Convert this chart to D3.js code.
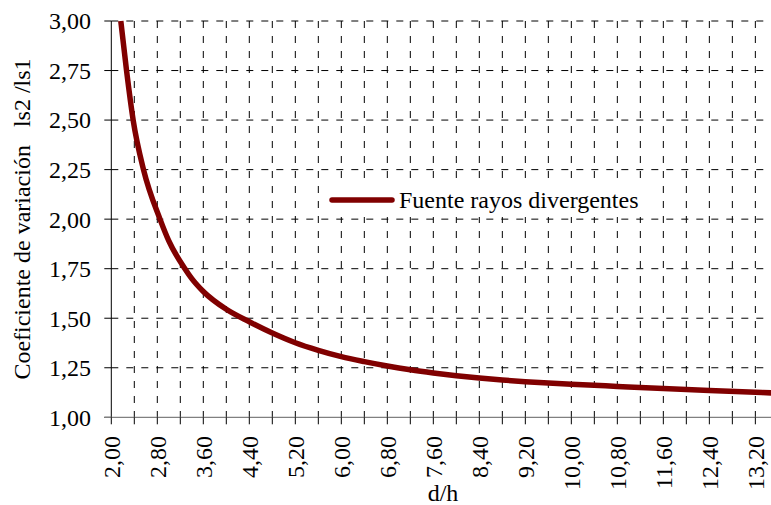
<!DOCTYPE html>
<html>
<head>
<meta charset="utf-8">
<script src="https://cdn.jsdelivr.net/npm/d3@7"></script>
<style>
  body { margin: 0; background: #fff; }
</style>
</head>
<body>
<svg width="771" height="505"></svg>
<script>
// values
const dh = [2.165, 2.265, 2.38, 2.56, 2.847, 3.00, 3.28, 3.40, 3.60, 4.00, 4.40, 4.80, 5.20,
    5.60, 6.00, 6.40, 6.80, 7.20, 7.60, 8.00, 8.40, 8.80, 9.20, 9.60, 10.00, 10.80, 11.60,
    12.40, 13.20, 13.50]
const ratio = [3.00, 2.75, 2.50, 2.25, 2.00, 1.89, 1.75, 1.70, 1.635, 1.545, 1.482, 1.425, 1.376,
    1.338, 1.306, 1.281, 1.259, 1.240, 1.224, 1.210, 1.198, 1.188, 1.180, 1.173, 1.167, 1.156, 1.145,
    1.135, 1.126, 1.123]
const yTicks = [1.00, 1.25, 1.50, 1.75, 2.00, 2.25, 2.50, 2.75, 3.00]
const xGrid = d3.range(2, 13.4, 0.4)
const xLabels = d3.range(2, 13.4, 0.8)
const seriesName = 'Fuente rayos divergentes',
    xTitle = 'd/h',
    yTitle = 'Coeficiente de variación   ls2 /ls1'

const svg = d3.select('svg')
    .attr('font-family', '"Liberation Serif", "DejaVu Serif", "Times New Roman", serif'),
    pLeft = 111.3, pTop = 21, pBottom = 417.3, pRight = 772.6,
    line_color = '#800000',
    fs = '24px',
    fmt = (v) => d3.format('.2f')(v).replace('.', ',')

const x = d3.scaleLinear().domain([2, 13.5]).range([pLeft, pRight]),
    y = d3.scaleLinear().domain([1, 3]).range([pBottom, pTop])

// grid
svg.append('g').selectAll('line')
    .data(xGrid.filter((d) => d > 2.01))
    .enter().append('line')
    .attr('x1', (d) => x(d)).attr('x2', (d) => x(d))
    .attr('y1', pTop).attr('y2', pBottom)
    .style('stroke', '#000').style('stroke-width', 1)
    .style('stroke-dasharray', '7,8')

svg.append('g').selectAll('line')
    .data(yTicks.filter((d) => d > 1))
    .enter().append('line')
    .attr('x1', pLeft).attr('x2', 771)
    .attr('y1', (d) => y(d)).attr('y2', (d) => y(d))
    .style('stroke', '#000').style('stroke-width', 1)
    .style('stroke-dasharray', '7,8')

// y axis
svg.append('line')
    .attr('x1', pLeft).attr('x2', pLeft).attr('y1', pTop).attr('y2', pBottom)
    .style('stroke', '#000')
svg.append('g').selectAll('line')
    .data(yTicks)
    .enter().append('line')
    .attr('x1', pLeft - 7).attr('x2', pLeft)
    .attr('y1', (d) => y(d)).attr('y2', (d) => y(d))
    .style('stroke', '#000')
svg.append('g').selectAll('text')
    .data(yTicks)
    .enter().append('text')
    .attr('x', 91).attr('y', (d) => y(d)).attr('dy', '0.35em')
    .style('text-anchor', 'end').style('font-size', fs)
    .text(fmt)

// x axis
svg.append('line')
    .attr('x1', pLeft - 7).attr('x2', 771).attr('y1', pBottom).attr('y2', pBottom)
    .style('stroke', '#808080').style('stroke-width', 1.3)
svg.append('g').selectAll('line')
    .data(xGrid)
    .enter().append('line')
    .attr('x1', (d) => x(d)).attr('x2', (d) => x(d))
    .attr('y1', pBottom).attr('y2', pBottom + 7)
    .style('stroke', '#000')
svg.append('g').selectAll('text')
    .data(xLabels)
    .enter().append('text')
    .attr('transform', (d) => 'translate(' + x(d) + ',436)rotate(-90)')
    .attr('dy', '0.35em')
    .style('text-anchor', 'end').style('font-size', fs)
    .text(fmt)

// titles
svg.append('text')
    .attr('x', 443).attr('y', 501)
    .style('text-anchor', 'middle').style('font-size', fs)
    .text(xTitle)
svg.append('text')
    .attr('transform', 'translate(30,219)rotate(-90)')
    .style('text-anchor', 'middle').style('font-size', fs)
    .style('white-space', 'pre')
    .text(yTitle)

// curve
const line = d3.line()
    .x((d, i) => x(dh[i]))
    .y((d) => y(d))
    .curve(d3.curveMonotoneX)

svg.append('path')
    .datum(ratio)
    .attr('d', line)
    .style('fill', 'none')
    .style('stroke', line_color)
    .style('stroke-width', 5.5)

// legend
const lg = svg.append('g')
lg.append('rect')
    .attr('x', 326).attr('y', 185).attr('width', 322).attr('height', 32)
    .style('fill', '#fff')
lg.append('line')
    .attr('x1', 332).attr('x2', 392).attr('y1', 200).attr('y2', 200)
    .style('stroke', line_color).style('stroke-width', 5.5)
    .style('stroke-linecap', 'round')
lg.append('text')
    .attr('x', 399).attr('y', 208)
    .style('font-size', fs)
    .text(seriesName)
</script>
</body>
</html>
